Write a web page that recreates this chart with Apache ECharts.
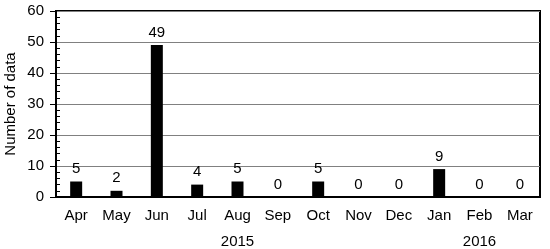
<!DOCTYPE html>
<html>
<head>
<meta charset="utf-8">
<script src="https://cdn.jsdelivr.net/npm/echarts@6/dist/echarts.min.js"></script>
<style>
  html, body { margin: 0; padding: 0; background: #fff; }
  #chart { width: 550px; height: 249px; }
</style>
</head>
<body>
<div id="chart"></div>
<script>
// 月度数据数量
const MONTHS = ['Apr', 'May', 'Jun', 'Jul', 'Aug', 'Sep', 'Oct', 'Nov', 'Dec', 'Jan', 'Feb', 'Mar'];
const YEARS = ['', '', '', '', '2015', '', '', '', '', '', '2016', ''];
const COUNTS = [5, 2, 49, 4, 5, 0, 5, 0, 0, 9, 0, 0];

const FONT = 'Liberation Sans';
const PLOT_LEFT = 56;
const PLOT_RIGHT = 10;
const PLOT_W = 550 - PLOT_LEFT - PLOT_RIGHT;

function initDataChart() {
  const chart = echarts.init(document.getElementById('chart'));
  chart.setOption({
    animation: false,
    textStyle: { fontFamily: FONT },
    grid: {
      left: PLOT_LEFT, right: PLOT_RIGHT, top: 11, bottom: 52,
      outerBoundsMode: 'none',
      containLabel: false,
      show: true, borderColor: '#000', borderWidth: 2
    },
    xAxis: [{
      type: 'category',
      data: MONTHS,
      axisLine: { lineStyle: { color: '#000', width: 2 } },
      axisTick: { show: false },
      axisLabel: { color: '#000', fontSize: 15, margin: 11 }
    }, {
      type: 'category',
      data: YEARS,
      position: 'bottom',
      offset: 26,
      axisLine: { show: false },
      axisTick: { show: false },
      axisLabel: { color: '#000', fontSize: 15, margin: 11, interval: 0 }
    }],
    yAxis: [{
      type: 'value',
      min: 0, max: 60, interval: 10,
      name: 'Number of data',
      nameLocation: 'middle',
      nameGap: 38,
      nameMoveOverlap: false,
      nameTextStyle: { color: '#000', fontSize: 15 },
      axisLine: { show: true, lineStyle: { color: '#000', width: 2 } },
      axisTick: { show: true, length: 6, lineStyle: { color: '#000' } },
      axisLabel: { color: '#000', fontSize: 15, margin: 12 },
      splitLine: { lineStyle: { color: '#808080', width: 1 } }
    }, {
      // 内侧小刻度：放在右侧再平移到左边框
      type: 'value',
      position: 'right',
      offset: -PLOT_W,
      min: 0, max: 60, interval: 10,
      axisLine: { show: false },
      axisTick: { show: false },
      axisLabel: { show: false },
      splitLine: { show: false },
      minorTick: { show: true, splitNumber: 5, length: 4, lineStyle: { color: '#000' } }
    }],
    series: [{
      type: 'bar',
      data: COUNTS,
      barWidth: 12,
      itemStyle: { color: '#000' },
      label: { show: true, position: 'top', distance: 5, color: '#000', fontSize: 15 }
    }]
  });
  window.addEventListener('resize', () => chart.resize());
}

initDataChart();
</script>
</body>
</html>
